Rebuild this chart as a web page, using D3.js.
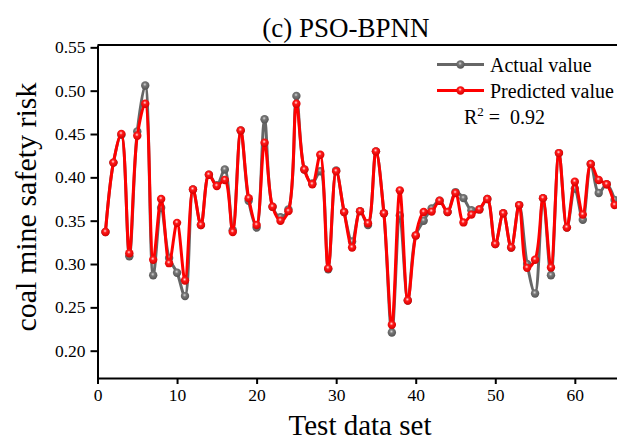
<!DOCTYPE html>
<html lang="en">
<head>
  <meta charset="UTF-8">
  <title>(c) PSO-BPNN</title>
  <style>
    body {
      margin: 0;
      background-color: #fff;
    }
    svg {
      display: block;
      font-family: "Liberation Serif", "Times New Roman", serif;
    }
    .axis path,
    .axis line {
      stroke: #000;
      stroke-width: 2px;
    }
  </style>
  <script src="https://d3js.org/d3.v7.min.js"></script>
</head>
<body>
  <div id="chart"></div>

  <script>
    // Values (test samples 1..65)
    const actualValues = [
      0.337, 0.417, 0.449, 0.309, 0.453, 0.506, 0.287, 0.365, 0.307, 0.290,
      0.263, 0.386, 0.345, 0.403, 0.391, 0.409, 0.339, 0.454, 0.373, 0.342,
      0.467, 0.366, 0.354, 0.363, 0.494, 0.409, 0.393, 0.407, 0.294, 0.408,
      0.360, 0.326, 0.361, 0.345, 0.430, 0.3585, 0.221, 0.356, 0.258, 0.333,
      0.350, 0.364, 0.373, 0.360, 0.383, 0.376, 0.362, 0.363, 0.375, 0.323,
      0.3585, 0.319, 0.368, 0.300, 0.266, 0.376, 0.287, 0.428, 0.342, 0.387,
      0.351, 0.4155, 0.382, 0.392, 0.374
    ];
    const predictedValues = [
      0.337, 0.417, 0.450, 0.3125, 0.448, 0.485, 0.305, 0.375, 0.301, 0.3475,
      0.281, 0.386, 0.345, 0.403, 0.390, 0.397, 0.337, 0.454, 0.376, 0.345,
      0.440, 0.366, 0.350, 0.361, 0.485, 0.409, 0.392, 0.426, 0.295, 0.407,
      0.360, 0.319, 0.361, 0.347, 0.430, 0.3585, 0.230, 0.385, 0.258, 0.333,
      0.360, 0.3605, 0.373, 0.360, 0.382, 0.348, 0.357, 0.363, 0.375, 0.323,
      0.3585, 0.319, 0.368, 0.2956, 0.305, 0.376, 0.296, 0.428, 0.342, 0.395,
      0.357, 0.4155, 0.397, 0.392, 0.368
    ];
    const xTicks = [0, 10, 20, 30, 40, 50, 60];
    const yTicks = [0.20, 0.25, 0.30, 0.35, 0.40, 0.45, 0.50, 0.55];
    const seriesNames = ['Actual value', 'Predicted value'];
    const r2Text = '0.92';

    const serif = '"Liberation Serif", "Times New Roman", serif';
    const width = 617;
    const height = 443;
    const margin = { top: 45, right: 0, bottom: 65, left: 97.5 };

    const svg = d3.select('#chart')
      .append('svg')
      .attr('width', width)
      .attr('height', height);

    // gradients for the shaded ball markers
    const defs = svg.append('defs');
    function ballGradient(id, light, mid, dark) {
      const g = defs.append('radialGradient')
        .attr('id', id)
        .attr('cx', '45%').attr('cy', '38%').attr('r', '60%');
      g.append('stop').attr('offset', '0%').attr('stop-color', light);
      g.append('stop').attr('offset', '35%').attr('stop-color', mid);
      g.append('stop').attr('offset', '100%').attr('stop-color', dark);
    }
    ballGradient('ballRed', '#ffe0e0', '#ff1a1a', '#d80000');
    ballGradient('ballGrey', '#d8d8d8', '#777', '#555');

    const x = d3.scaleLinear()
      .domain([0, 65.3])
      .range([margin.left, width - margin.right]);

    const y = d3.scaleLinear()
      .domain([0.1685, 0.5527])
      .range([height - margin.bottom, margin.top]);

    // axes
    const xAxis = svg.append('g')
      .attr('class', 'axis')
      .attr('transform', `translate(0, ${height - margin.bottom})`)
      .call(d3.axisBottom(x).tickValues(xTicks).tickSize(6).tickSizeOuter(0).tickPadding(5));

    const yAxis = svg.append('g')
      .attr('class', 'axis')
      .attr('transform', `translate(${margin.left}, 0)`)
      .call(d3.axisLeft(y).tickValues(yTicks).tickFormat(d3.format('.2f'))
        .tickSize(7).tickSizeOuter(0).tickPadding(5));

    [xAxis, yAxis].forEach(a => {
      a.attr('font-family', serif).attr('font-size', 17.5);
      a.selectAll('text')
        .attr('fill', '#000')
        .style('font-family', serif)
        .style('font-size', '17.5px');
    });

    // top frame line
    svg.append('line')
      .attr('x1', margin.left).attr('x2', width)
      .attr('y1', margin.top).attr('y2', margin.top)
      .attr('stroke', '#000').attr('stroke-width', 2);

    // series
    const line = d3.line()
      .x((d, i) => x(i + 1))
      .y(d => y(d))
      .curve(d3.curveCatmullRom.alpha(0.5));

    const series = [
      { values: actualValues, color: '#666', fill: 'url(#ballGrey)' },
      { values: predictedValues, color: '#ff0000', fill: 'url(#ballRed)' }
    ];

    series.forEach(s => {
      svg.append('path')
        .datum(s.values)
        .attr('fill', 'none')
        .attr('stroke', s.color)
        .attr('stroke-width', 3)
        .attr('stroke-linejoin', 'round')
        .attr('d', line);

      svg.append('g')
        .selectAll('circle')
        .data(s.values)
        .enter()
        .append('circle')
        .attr('cx', (d, i) => x(i + 1))
        .attr('cy', d => y(d))
        .attr('r', 4.2)
        .attr('fill', s.fill);
    });

    // title
    svg.append('text')
      .attr('x', 346)
      .attr('y', 37)
      .attr('text-anchor', 'middle')
      .style('font-size', '27px')
      .text('(c) PSO-BPNN');

    // axis titles
    svg.append('text')
      .attr('x', 360)
      .attr('y', 435)
      .attr('text-anchor', 'middle')
      .style('font-size', '29px')
      .text('Test data set');

    svg.append('text')
      .attr('transform', 'translate(36, 207) rotate(-90)')
      .attr('text-anchor', 'middle')
      .style('font-size', '30px')
      .text('coal mine safety risk');

    // legend
    const legend = svg.append('g').attr('id', 'legend');
    series.forEach((s, i) => {
      const ly = 64.5 + i * 26;
      legend.append('line')
        .attr('x1', 437).attr('x2', 484)
        .attr('y1', ly).attr('y2', ly)
        .attr('stroke', s.color).attr('stroke-width', 3);
      legend.append('circle')
        .attr('cx', 460.5).attr('cy', ly).attr('r', 4.2)
        .attr('fill', s.fill);
      legend.append('text')
        .attr('x', 490).attr('y', ly + 7)
        .style('font-size', '20px')
        .text(seriesNames[i]);
    });

    const r2 = legend.append('text')
      .attr('x', 464).attr('y', 124)
      .style('font-size', '20px')
      .style('white-space', 'pre');
    r2.append('tspan').text('R');
    r2.append('tspan').attr('dy', -8).style('font-size', '13px').text('2');
    r2.append('tspan').attr('dy', 8).text(' =  ' + r2Text);
  </script>
</body>
</html>
